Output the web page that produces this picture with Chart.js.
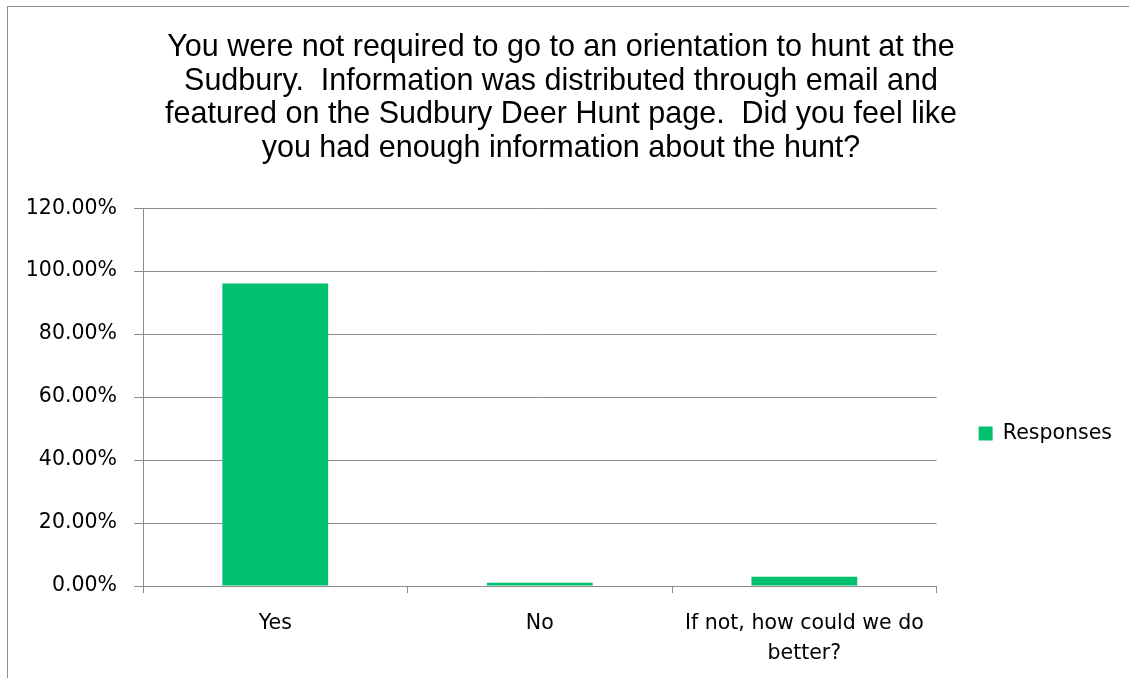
<!DOCTYPE html>
<html>
<head>
<meta charset="utf-8">
<script src="https://cdn.jsdelivr.net/npm/chart.js@4"></script>
<style>
  body { margin: 0; background: #fff; }
  #wrap { position: relative; width: 1129px; height: 678px; overflow: hidden; }
  #frame { position: absolute; left: 7px; top: 6px; width: 1200px; height: 800px;
           border-left: 1px solid #8c8c8c; border-top: 1px solid #8c8c8c; }
  canvas { position: absolute; left: 0; top: 0; }
</style>
</head>
<body>
<div id="wrap">
  <div id="frame"></div>
  <canvas id="responsesChart" width="1129" height="678"></canvas>
</div>
<script>
// Data for chart
const categories = ["Yes", "No", "If not, how could we do better?"];
const responses = [96.1, 1.0, 2.9];
const yMax = 120;
const yStep = 20;

const titleLines = [
    "You were not required to go to an orientation to hunt at the",
    "Sudbury.  Information was distributed through email and",
    "featured on the Sudbury Deer Hunt page.  Did you feel like",
    "you had enough information about the hunt?"
];

const labelFont = { family: "'DejaVu Sans'", size: 20.5 };
const gridGray = "#8c8c8c";

// Responses Chart
const responsesChart = new Chart(document.getElementById("responsesChart"), {
    type: "bar",
    data: {
        labels: categories,
        datasets: [{
            label: "Responses",
            data: responses,
            backgroundColor: "#00c06e",
            borderWidth: 0,
            barPercentage: 0.4,
            categoryPercentage: 1.0,
        }],
    },
    options: {
        responsive: false,
        animation: false,
        layout: { padding: { left: 0, right: 7, top: 0, bottom: 0 } },
        plugins: {
            title: {
                display: true,
                text: titleLines,
                color: "#000",
                font: { family: "'Liberation Sans', Arial", size: 30.5, weight: "normal", lineHeight: 1.1 },
                padding: { top: 31, bottom: 43 },
            },
            legend: {
                position: "right",
                maxWidth: 193,
                title: { display: true, text: " ", padding: 0, font: { size: 10, lineHeight: "189px" } },
                labels: {
                    color: "#000",
                    font: labelFont,
                    boxWidth: 14,
                    boxHeight: 14,
                    padding: 42,
                },
            },
            tooltip: { enabled: false },
        },
        scales: {
            x: {
                grid: { display: true, drawOnChartArea: false, drawTicks: true, tickLength: 7, color: gridGray, offset: true },
                border: { display: true, color: gridGray },
                ticks: {
                    color: "#000",
                    font: { family: "'DejaVu Sans'", size: 20.5, lineHeight: 1.46 },
                    padding: 16,
                    maxRotation: 0,
                    autoSkip: false,
                    callback: function (value) {
                        const label = this.getLabelForValue(value);
                        return label.length > 20 ? ["If not, how could we do", "better?"] : label;
                    },
                },
                afterFit: (scale) => { scale.height = 92; },
            },
            y: {
                min: 0,
                max: yMax,
                grid: { color: gridGray, tickLength: 9, drawTicks: true },
                border: { display: true, color: gridGray },
                ticks: {
                    stepSize: yStep,
                    color: "#000",
                    font: labelFont,
                    padding: 17,
                    callback: (v) => v.toFixed(2) + "%",
                },
                afterFit: (scale) => { scale.width = 143; },
            },
        },
    },
});
</script>
</body>
</html>
